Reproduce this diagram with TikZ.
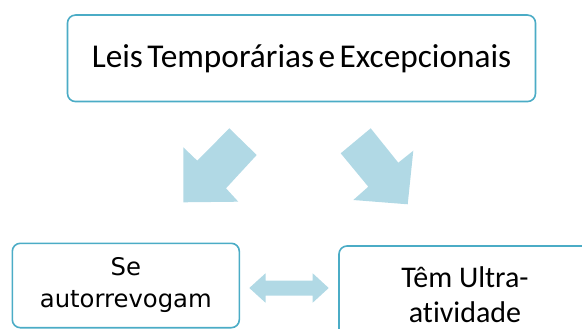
\documentclass[tikz,border=0pt]{standalone}
\usepackage{fontspec}
\setmainfont[Ligatures=NoCommon]{Carlito}
\newfontfamily\topfont[WordSpace=0.6,Ligatures=NoCommon]{Carlito}
\newfontfamily\leftfont{DejaVu Sans}
\definecolor{boxline}{HTML}{4BACC6}
\definecolor{arrowfill}{HTML}{B1D9E5}
\begin{document}
\begin{tikzpicture}[x=1pt,y=-1pt,
  box/.style={draw=boxline, line width=1.6pt, rounded corners=8pt, fill=white,
    inner sep=0pt, align=center, text=black},
  blockarrow/.style={fill=arrowfill, draw=none}]
\useasboundingbox (0,0) rectangle (582,329);
\clip (0,0) rectangle (582,329);
% boxes
\node[box, minimum width=468pt, minimum height=86.5pt,
  font=\topfont\fontsize{33.3}{40}\selectfont] (top) at (301.5,58.3)
  {Leis Temporárias e Excepcionais};
\node[box, minimum width=227pt, minimum height=84.4pt,
  font=\leftfont\fontsize{24.3}{32}\selectfont] (left) at (125.8,285.5)
  {Se\\autorrevogam};
\node[box, minimum width=252pt, minimum height=98pt,
  font=\fontsize{30}{35}\selectfont] (right) at (465,295)
  {Têm Ultra-\\atividade};
% block arrows
\fill[blockarrow] (183.3,202.3) -- (183.3,147.3) -- (197.3,160.7) -- (229.3,128.3)
  -- (256.7,155) -- (226,188.3) -- (238.3,201.7) -- cycle;
\fill[blockarrow] (370.7,128.3) -- (340.7,153.3) -- (368.3,186.7) -- (353.3,200)
  -- (407.7,204.3) -- (413.3,150.7) -- (398.3,162.7) -- cycle;
% double arrow between bottom boxes
\fill[blockarrow] (249.3,288) -- (265.5,273.3) -- (265.5,280.7) -- (312.7,280.7)
  -- (312.7,273.3) -- (328.7,288) -- (312.7,302.7) -- (312.7,295.7)
  -- (265.5,295.7) -- (265.5,302.7) -- cycle;
\end{tikzpicture}
\end{document}
